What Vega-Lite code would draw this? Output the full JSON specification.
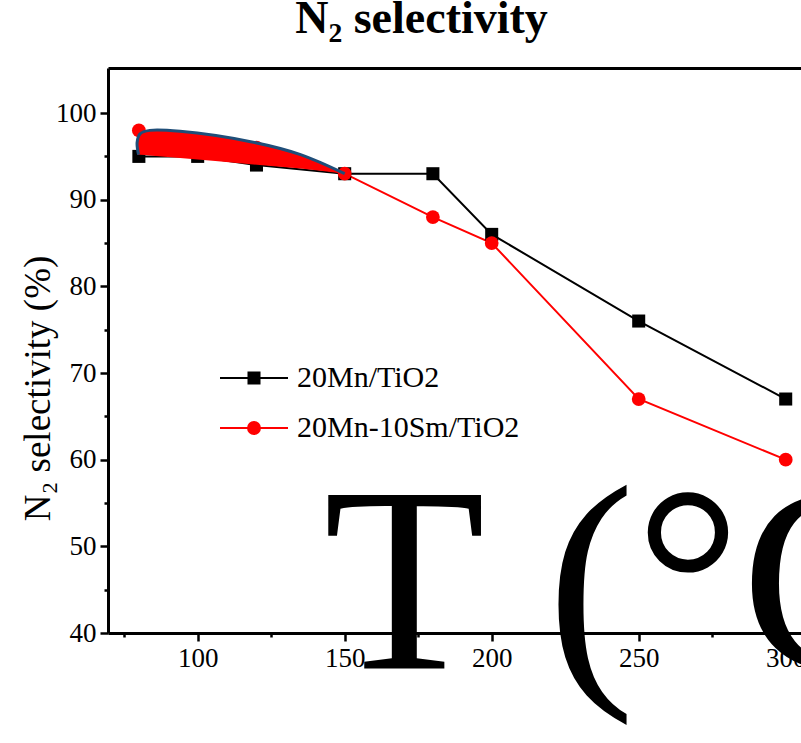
{
  "$schema": "https://vega.github.io/schema/vega-lite/v6.json",
  "width": 693,
  "height": 565,
  "autosize": {"type": "none"},
  "padding": {"left": 108, "top": 68, "right": 0, "bottom": 110},
  "background": "white",
  "title": {
    "text": "N₂ selectivity",
    "font": "Liberation Serif",
    "fontSize": 46,
    "fontWeight": "bold",
    "color": "black",
    "anchor": "middle",
    "dx": -33,
    "baseline": "alphabetic",
    "offset": -11
  },
  "config": {
    "font": "Liberation Serif",
    "view": {"stroke": null},
    "axis": {
      "domainColor": "black",
      "domainWidth": 3,
      "tickColor": "black",
      "tickWidth": 2.5,
      "labelColor": "black",
      "labelFont": "Liberation Serif",
      "labelFontSize": 27,
      "titleColor": "black",
      "titleFont": "Liberation Serif",
      "titleFontWeight": "normal",
      "grid": false
    },
    "legend": {
      "orient": "none",
      "legendX": 111,
      "legendY": 275,
      "padding": 0,
      "labelFont": "Liberation Serif",
      "labelFontSize": 30,
      "labelColor": "black",
      "labelLimit": 400,
      "labelOffset": 8,
      "rowPadding": -21,
      "symbolSize": 4624,
      "symbolStrokeWidth": 2,
      "symbolOpacity": 1
    }
  },
  "datasets": {
    "series": [
      {"T": 80, "sel": 95, "cat": "20Mn/TiO2"},
      {"T": 100, "sel": 95, "cat": "20Mn/TiO2"},
      {"T": 120, "sel": 94, "cat": "20Mn/TiO2"},
      {"T": 150, "sel": 93, "cat": "20Mn/TiO2"},
      {"T": 180, "sel": 93, "cat": "20Mn/TiO2"},
      {"T": 200, "sel": 86, "cat": "20Mn/TiO2"},
      {"T": 250, "sel": 76, "cat": "20Mn/TiO2"},
      {"T": 300, "sel": 67, "cat": "20Mn/TiO2"},
      {"T": 80, "sel": 98, "cat": "20Mn-10Sm/TiO2"},
      {"T": 100, "sel": 97, "cat": "20Mn-10Sm/TiO2"},
      {"T": 120, "sel": 96, "cat": "20Mn-10Sm/TiO2"},
      {"T": 150, "sel": 93, "cat": "20Mn-10Sm/TiO2"},
      {"T": 180, "sel": 88, "cat": "20Mn-10Sm/TiO2"},
      {"T": 200, "sel": 85, "cat": "20Mn-10Sm/TiO2"},
      {"T": 250, "sel": 67, "cat": "20Mn-10Sm/TiO2"},
      {"T": 300, "sel": 60, "cat": "20Mn-10Sm/TiO2"}
    ],
    "band": [
      {"T": 79.6, "hi": 96.6, "lo": 95.2},
      {"T": 80.4, "hi": 97.6, "lo": 95.2},
      {"T": 83.7, "hi": 98.0, "lo": 95.1},
      {"T": 94, "hi": 97.9, "lo": 94.8},
      {"T": 118, "hi": 96.7, "lo": 94.1},
      {"T": 135, "hi": 95.2, "lo": 93.6},
      {"T": 150, "hi": 93.0, "lo": 93.0}
    ],
    "outline": [
      {"T": 79.9, "v": 95.2, "k": 0},
      {"T": 79.4, "v": 96.6, "k": 1},
      {"T": 80.4, "v": 97.6, "k": 2},
      {"T": 83.7, "v": 98.0, "k": 3},
      {"T": 94, "v": 97.9, "k": 4},
      {"T": 118, "v": 96.7, "k": 5},
      {"T": 135, "v": 95.2, "k": 6},
      {"T": 150, "v": 93.0, "k": 7}
    ]
  },
  "resolve": {"axis": {"x": "independent"}},
  "layer": [
    {
      "data": {"name": "series"},
      "mark": {"type": "line", "strokeWidth": 2},
      "encoding": {
        "x": {
          "field": "T",
          "type": "quantitative",
          "scale": {"domain": [69.5, 305.2], "nice": false, "zero": false},
          "axis": {
            "orient": "bottom",
            "values": [75, 100, 125, 150, 175, 200, 225, 250, 275, 300],
            "labelExpr": "datum.value % 50 === 0 ? datum.label : ''",
            "tickSize": {"condition": {"test": "datum.value % 50 === 0", "value": 8}, "value": 4},
            "labelPadding": 4,
            "title": "T (°C)",
            "titleFontSize": 265,
            "titleAlign": "left",
            "titleBaseline": "alphabetic",
            "titleX": 215,
            "titleY": 35
          }
        },
        "y": {
          "field": "sel",
          "type": "quantitative",
          "scale": {"domain": [40, 105.2], "nice": false, "zero": false},
          "axis": {
            "values": [40, 45, 50, 55, 60, 65, 70, 75, 80, 85, 90, 95, 100],
            "labelExpr": "datum.value % 10 === 0 ? datum.label : ''",
            "tickSize": {"condition": {"test": "datum.value % 10 === 0", "value": 8}, "value": 4},
            "labelPadding": 4,
            "title": "N₂ selectivity (%)",
            "titleFontSize": 37,
            "titleAngle": -90,
            "titleAlign": "center",
            "titleBaseline": "middle",
            "titleX": -70,
            "titleY": 320
          }
        },
        "color": {
          "field": "cat",
          "type": "nominal",
          "title": null,
          "scale": {"domain": ["20Mn/TiO2", "20Mn-10Sm/TiO2"], "range": ["black", "red"]}
        }
      }
    },
    {
      "data": {"name": "series"},
      "transform": [{"filter": "datum.cat === '20Mn/TiO2'"}],
      "mark": {"type": "point", "shape": "square", "filled": true, "size": 170, "opacity": 1},
      "encoding": {
        "x": {"field": "T", "type": "quantitative", "axis": null},
        "y": {"field": "sel", "type": "quantitative"},
        "color": {"field": "cat", "type": "nominal", "title": null}
      }
    },
    {
      "data": {"name": "series"},
      "transform": [{"filter": "datum.cat === '20Mn-10Sm/TiO2'"}],
      "mark": {"type": "point", "shape": "circle", "filled": true, "size": 190, "opacity": 1},
      "encoding": {
        "x": {"field": "T", "type": "quantitative", "axis": null},
        "y": {"field": "sel", "type": "quantitative"},
        "color": {"field": "cat", "type": "nominal", "title": null}
      }
    },
    {
      "data": {"name": "band"},
      "mark": {"type": "area", "color": "red", "opacity": 1, "interpolate": "monotone"},
      "encoding": {
        "x": {
          "field": "T",
          "type": "quantitative",
          "axis": {"orient": "top", "labels": false, "ticks": false, "title": null, "domainWidth": 3}
        },
        "y": {"field": "hi", "type": "quantitative"},
        "y2": {"field": "lo"}
      }
    },
    {
      "data": {"name": "outline"},
      "mark": {"type": "line", "color": "#1f4e79", "strokeWidth": 3, "interpolate": "catmull-rom"},
      "encoding": {
        "x": {"field": "T", "type": "quantitative", "axis": null},
        "y": {"field": "v", "type": "quantitative"},
        "order": {"field": "k", "type": "quantitative"}
      }
    },
    {
      "data": {"name": "series"},
      "transform": [{"filter": "false"}],
      "mark": {"type": "point", "filled": false, "size": 4624, "opacity": 1, "strokeWidth": 2},
      "encoding": {
        "x": {"field": "T", "type": "quantitative", "axis": null},
        "y": {"field": "sel", "type": "quantitative"},
        "color": {"field": "cat", "type": "nominal", "title": null},
        "shape": {
          "field": "cat",
          "type": "nominal",
          "title": null,
          "scale": {
            "domain": ["20Mn/TiO2", "20Mn-10Sm/TiO2"],
            "range": [
              "M-1,0H1M-0.162,-0.162H0.162V0.162H-0.162ZM-0.118,-0.118H0.118V0.118H-0.118ZM-0.074,-0.074H0.074V0.074H-0.074ZM-0.029,-0.029H0.029V0.029H-0.029Z",
              "M-1,0H1M-0.176,0A0.176,0.176,0,1,1,0.176,0A0.176,0.176,0,1,1,-0.176,0ZM-0.132,0A0.132,0.132,0,1,1,0.132,0A0.132,0.132,0,1,1,-0.132,0ZM-0.088,0A0.088,0.088,0,1,1,0.088,0A0.088,0.088,0,1,1,-0.088,0ZM-0.044,0A0.044,0.044,0,1,1,0.044,0A0.044,0.044,0,1,1,-0.044,0Z"
            ]
          }
        }
      }
    }
  ]
}
